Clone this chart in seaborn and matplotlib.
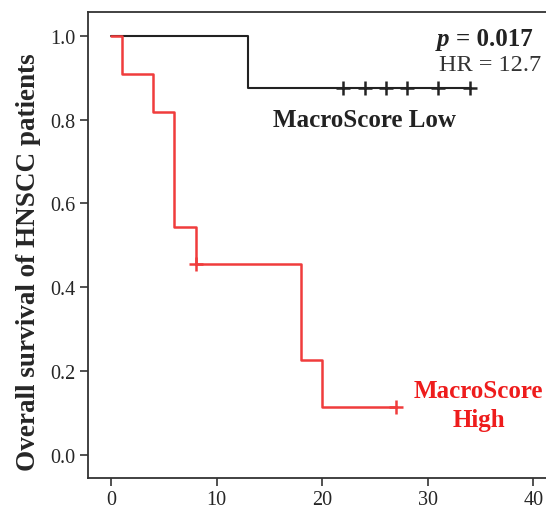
import matplotlib
matplotlib.use("Agg")
import matplotlib.pyplot as plt
import seaborn as sns
import pandas as pd

# Kaplan-Meier step data
low_time = [0, 13, 34]
low_surv = [1.0, 0.875, 0.875]
low_cens_time = [22, 24, 26, 28, 31, 34]
low_cens_surv = [0.875] * 6

high_time = [0, 1, 4, 6, 8, 18, 20, 27]
high_surv = [1.0, 0.909, 0.818, 0.545, 0.4545, 0.227, 0.1136, 0.1136]
high_cens_time = [8, 27]
high_cens_surv = [0.4545, 0.1136]

xticks = [0, 10, 20, 30, 40]
yticks = [0.0, 0.2, 0.4, 0.6, 0.8, 1.0]

sns.set_style("white")
plt.rcParams['font.family'] = ['Liberation Serif', 'DejaVu Serif']

fig = plt.figure(figsize=(5.46, 5.06), dpi=100)
ax = fig.add_axes([0.161, 0.0534, 0.845, 0.921])

red = "#f03c3c"
black = "#222222"

df_low = pd.DataFrame({"t": low_time, "s": low_surv})
df_high = pd.DataFrame({"t": high_time, "s": high_surv})
sns.lineplot(data=df_low, x="t", y="s", drawstyle="steps-post", color=black, lw=1.5, ax=ax)
sns.lineplot(data=df_high, x="t", y="s", drawstyle="steps-post", color=red, lw=1.8, ax=ax)
sns.scatterplot(x=low_cens_time, y=low_cens_surv, marker="+", s=90, color=black, linewidth=1.8, ax=ax)
sns.scatterplot(x=high_cens_time, y=high_cens_surv, marker="+", s=110, color=red, linewidth=1.8, ax=ax)

ax.set_xlim(-2.2, 41.5)
ax.set_ylim(-0.055, 1.057)
ax.set_xticks(xticks)
ax.set_xticklabels([str(v) for v in xticks])
ax.set_yticks(yticks)
ax.set_yticklabels([f"{v:.1f}" for v in yticks])
ax.tick_params(axis="both", direction="out", length=6, width=1.2, color="#333333",
               labelsize=14.5, bottom=True, left=True, pad=3)
ax.set_xlabel("")
ax.set_ylabel("Overall survival of HNSCC patients", fontsize=19.5, fontweight="bold")
ax.yaxis.set_label_coords(-0.101, 0.466)
for sp in ax.spines.values():
    sp.set_color("#333333")
    sp.set_linewidth(1.3)

t1 = ax.text(39.9, 0.993, "= 0.017", fontsize=18, fontweight="bold", ha="right", va="center", color=black)
ax.annotate("p ", xy=(0, 0.5), xycoords=t1, fontsize=18, fontweight="bold", fontstyle="italic",
            ha="right", va="center", color=black)
ax.text(40.75, 0.931, "HR = 12.7", fontsize=17.5, ha="right", va="center", color="#333333")
ax.text(24.0, 0.80, "MacroScore Low", fontsize=18, fontweight="bold", ha="center", va="center", color=black)
ax.text(34.8, 0.119, "MacroScore\nHigh", fontsize=18, fontweight="bold", ha="center", va="center",
        color="#ee1c1c", linespacing=1.35)

fig.savefig("out.png", dpi=100)
